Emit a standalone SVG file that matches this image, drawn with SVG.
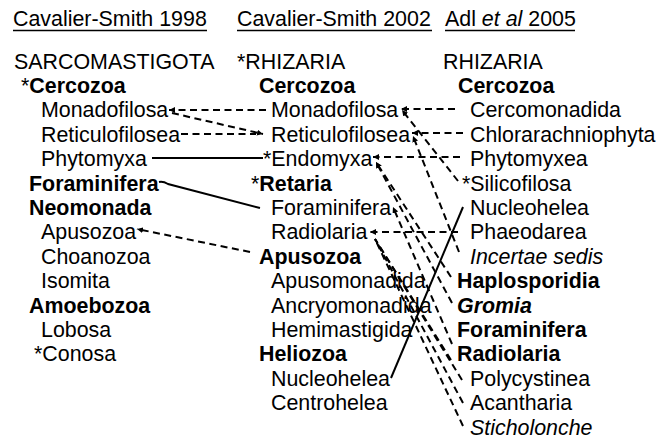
<svg xmlns="http://www.w3.org/2000/svg" width="668" height="439" viewBox="0 0 668 439">
<style>
text{font-family:"Liberation Sans",Arial,sans-serif;font-size:21.4px;fill:#000}
.b{font-weight:bold}
.i{font-style:italic}
.ul{stroke:#000;stroke-width:1.5}
.d{fill:none;stroke:#000;stroke-width:2;stroke-dasharray:7 4.5}
.s{fill:none;stroke:#000;stroke-width:2}
</style>
<defs>
<marker id="ah" markerUnits="userSpaceOnUse" markerWidth="7" markerHeight="6" refX="6" refY="3" orient="auto">
<path d="M0,0 L6,3 L0,6 z" fill="#000"/>
</marker>
</defs>
<rect width="668" height="439" fill="#fff"/>
<g id="headers">
<text x="13" y="25.5">Cavalier-Smith 1998</text>
<line class="ul" x1="13" y1="30.5" x2="207" y2="30.5"/>
<text x="237" y="25.5">Cavalier-Smith 2002</text>
<line class="ul" x1="237" y1="30.5" x2="432" y2="30.5"/>
<text x="445" y="25.5">Adl <tspan class="i">et al</tspan> 2005</text>
<line class="ul" x1="445" y1="30.5" x2="575" y2="30.5"/>
</g>
<g id="col1998">
<g id="n98-sarcomastigota"><text x="14" y="68.5">SARCOMASTIGOTA</text></g>
<g id="n98-cercozoa"><text x="21" y="92.9">*<tspan class="b">Cercozoa</tspan></text></g>
<g id="n98-monadofilosa"><text x="41" y="117.3">Monadofilosa</text></g>
<g id="n98-reticulofilosea"><text x="41" y="141.7">Reticulofilosea</text></g>
<g id="n98-phytomyxa"><text x="41" y="166.1">Phytomyxa</text></g>
<g id="n98-foraminifera"><text class="b" x="29" y="190.5">Foraminifera</text></g>
<g id="n98-neomonada"><text class="b" x="29" y="214.9">Neomonada</text></g>
<g id="n98-apusozoa"><text x="41" y="239.3">Apusozoa</text></g>
<g id="n98-choanozoa"><text x="41" y="263.7">Choanozoa</text></g>
<g id="n98-isomita"><text x="41" y="288.1">Isomita</text></g>
<g id="n98-amoebozoa"><text class="b" x="29" y="312.5">Amoebozoa</text></g>
<g id="n98-lobosa"><text x="41" y="336.9">Lobosa</text></g>
<g id="n98-conosa"><text x="34" y="361.3">*Conosa</text></g>
</g>
<g id="col2002">
<g id="n02-rhizaria"><text x="237" y="68.5">*RHIZARIA</text></g>
<g id="n02-cercozoa"><text class="b" x="259" y="92.9">Cercozoa</text></g>
<g id="n02-monadofilosa"><text x="271" y="117.3">Monadofilosa</text></g>
<g id="n02-reticulofilosea"><text x="271" y="141.7">Reticulofilosea</text></g>
<g id="n02-endomyxa"><text x="263" y="166.1">*Endomyxa</text></g>
<g id="n02-retaria"><text x="251" y="190.5">*<tspan class="b">Retaria</tspan></text></g>
<g id="n02-foraminifera"><text x="271" y="214.9">Foraminifera</text></g>
<g id="n02-radiolaria"><text x="271" y="239.3">Radiolaria</text></g>
<g id="n02-apusozoa"><text class="b" x="259" y="263.7">Apusozoa</text></g>
<g id="n02-apusomonadida"><text x="271" y="288.1">Apusomonadida</text></g>
<g id="n02-ancryomonadida"><text x="271" y="312.5">Ancryomonadida</text></g>
<g id="n02-hemimastigida"><text x="271" y="336.9">Hemimastigida</text></g>
<g id="n02-heliozoa"><text class="b" x="259" y="361.3">Heliozoa</text></g>
<g id="n02-nucleohelea"><text x="271" y="385.7">Nucleohelea</text></g>
<g id="n02-centrohelea"><text x="271" y="410.1">Centrohelea</text></g>
</g>
<g id="col2005">
<g id="n05-rhizaria"><text x="443" y="68.5">RHIZARIA</text></g>
<g id="n05-cercozoa"><text class="b" x="458" y="92.9">Cercozoa</text></g>
<g id="n05-cercomonadida"><text x="470" y="117.3">Cercomonadida</text></g>
<g id="n05-chlorarachniophyta"><text x="470" y="141.7">Chlorarachniophyta</text></g>
<g id="n05-phytomyxea"><text x="470" y="166.1">Phytomyxea</text></g>
<g id="n05-silicofilosa"><text x="462" y="190.5">*Silicofilosa</text></g>
<g id="n05-nucleohelea"><text x="470" y="214.9">Nucleohelea</text></g>
<g id="n05-phaeodarea"><text x="470" y="239.3">Phaeodarea</text></g>
<g id="n05-incertae"><text class="i" x="470" y="263.7">Incertae sedis</text></g>
<g id="n05-haplosporidia"><text class="b" x="457" y="288.1">Haplosporidia</text></g>
<g id="n05-gromia"><text class="b i" x="457" y="312.5">Gromia</text></g>
<g id="n05-foraminifera"><text class="b" x="457" y="336.9">Foraminifera</text></g>
<g id="n05-radiolaria"><text class="b" x="457" y="361.3">Radiolaria</text></g>
<g id="n05-polycystinea"><text x="470" y="385.7">Polycystinea</text></g>
<g id="n05-acantharia"><text x="470" y="410.1">Acantharia</text></g>
<g id="n05-sticholonche"><text class="i" x="470" y="434.5">Sticholonche</text></g>
</g>
<g id="connectors">
<path class="d" d="M266,110 L169,110" marker-end="url(#ah)"/>
<path class="d" d="M172,113 L263,134" marker-end="url(#ah)"/>
<path class="d" d="M181,134 L256,134"/>
<path class="s" d="M152,158 L263,158"/>
<path class="s" d="M159,182 Q163,181 168,184 L260,208"/>
<path class="d" d="M250,252 L137,229" marker-end="url(#ah)"/>
<path class="d" d="M455,109 L401,109" marker-end="url(#ah)"/>
<path class="d" d="M458,181 L402,110" marker-end="url(#ah)"/>
<path class="d" d="M463,133 L412,133" marker-end="url(#ah)"/>
<path class="d" d="M459,252 L413,136" marker-end="url(#ah)"/>
<path class="d" d="M460,157 L373,157" marker-end="url(#ah)"/>
<path class="d" d="M451,277 L376,162" marker-end="url(#ah)"/>
<path class="d" d="M452,303 L376,162" marker-end="url(#ah)"/>
<path class="d" d="M452,344 L393,207" marker-end="url(#ah)"/>
<path class="d" d="M458,232 L370,232" marker-end="url(#ah)"/>
<path class="d" d="M451,360 L375,239"/>
<path class="d" d="M462,380 L375,239"/>
<path class="d" d="M463,403 L375,239"/>
<path class="d" d="M463,426 L375,239"/>
<path class="s" d="M391,378 L463,207"/>
</g>
</svg>
